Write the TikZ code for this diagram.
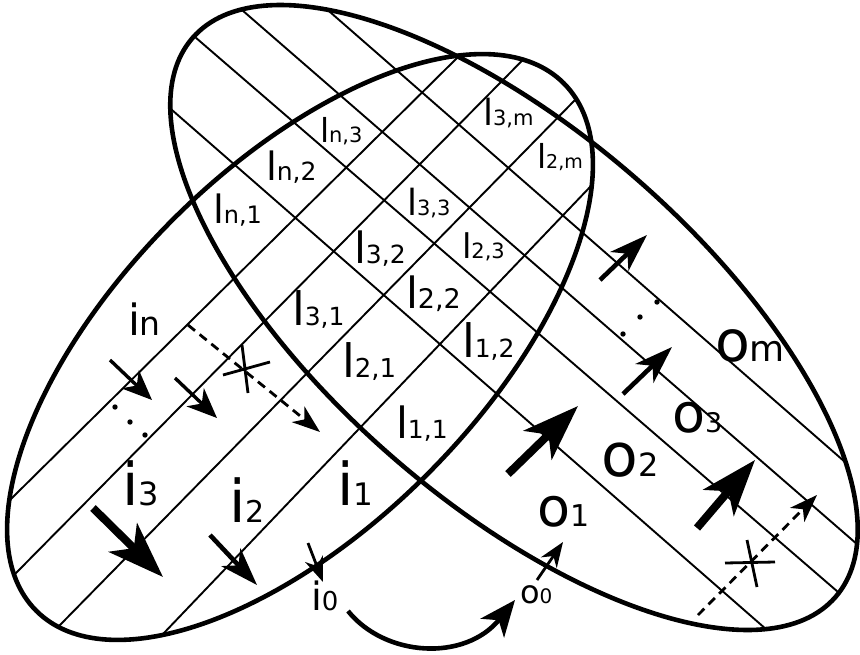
\documentclass[tikz,border=0pt]{standalone}
\usepackage{fontspec}
\setmainfont{DejaVu Sans}
\usetikzlibrary{arrows.meta,calc}
\newcommand\lab[7]{\node[lab] (#1) at (#2,#3) {\fontsize{#4pt}{#4pt}\selectfont #6\fontsize{#5pt}{#5pt}\selectfont #7};}
\newcommand\hatchline[2]{\draw[hatch] ($#1!-0.12!#2$) -- ($#2!-0.12!#1$);}
\begin{document}
\begin{tikzpicture}[x=1pt,y=-1pt,
  ell/.style={line width=4.6pt},
  hatch/.style={line width=1.9pt},
  lab/.style={anchor=base west, inner sep=0pt, outer sep=0pt},
  arrS/.style={line width=2.8pt, -{Stealth[length=25pt, width=19pt, inset=8pt]}},
  arrM/.style={line width=3.4pt, -{Stealth[length=30pt, width=25pt, inset=9pt]}},
  arrL/.style={line width=4.6pt, -{Stealth[length=38pt, width=26pt, inset=11pt]}},
  arrXL/.style={line width=8pt, -{Stealth[length=56pt, width=40pt, inset=15pt]}},
  dsh/.style={line width=2.8pt, dash pattern=on 9pt off 6pt, -{Stealth[length=28pt, width=20pt, inset=8pt]}},
  xmark/.style={line width=2.8pt}]
\useasboundingbox (0,0) rectangle (860,654);
\fill[white] (0,0) rectangle (860,654);
% input family lines, clipped to E1
\begin{scope}
  \clip[rotate around={45:(300,347)}] (300,347) ellipse [x radius=373, y radius=180];
  \hatchline{(15,495)}{(457,58)}
  \hatchline{(17,572)}{(500,83)}
  \hatchline{(60,625)}{(575,100)}
  \hatchline{(163,634)}{(590,187)}
\end{scope}
% output family lines, clipped to E2
\begin{scope}
  \clip[rotate around={-41:(514,317.5)}] (514,317.5) ellipse [x radius=426, y radius=185];
  \hatchline{(172,110)}{(767,630)}
  \hatchline{(195,37)}{(838,592)}
  \hatchline{(242,10)}{(858,545)}
  \hatchline{(330,12)}{(845,462)}
\end{scope}
% ellipses
\draw[ell, rotate around={45:(300,347)}] (300,347) ellipse [x radius=373, y radius=180];
\draw[ell, rotate around={-41:(514,317.5)}] (514,317.5) ellipse [x radius=426, y radius=185];
% labels
\lab{in}{128}{335}{43}{33}{i}{n}
\lab{i3}{122.5}{505}{59}{32}{i}{3}
\lab{i2}{229.5}{522}{59}{30}{i}{2}
\lab{i1}{337.5}{505}{59}{31}{i}{1}
\lab{i0}{311}{610}{39}{26}{i}{0}
\lab{o1}{537}{526}{54}{30}{o}{1}
\lab{o2}{601.7}{476}{60}{32}{o}{2}
\lab{o3}{672}{432}{54}{27}{o}{3}
\lab{om}{715}{361}{57}{36}{o}{m}
\lab{o0}{520}{603}{32}{20}{o}{0}
\lab{ln3}{320}{142}{33}{21}{l}{n,3}
\lab{ln2}{266}{180}{39}{25}{l}{n,2}
\lab{ln1}{213}{223}{39}{24}{l}{n,1}
\lab{l32}{354}{263}{43}{25}{l}{3,2}
\lab{l31}{292}{325}{46}{25}{l}{3,1}
\lab{l33}{407}{215}{36}{21}{l}{3,3}
\lab{l3m}{483}{125}{36}{21}{l}{3,m}
\lab{l2m}{537}{168}{33}{19}{l}{2,m}
\lab{l23}{462}{258}{34}{21}{l}{2,3}
\lab{l22}{406}{308}{43}{27}{l}{2,2}
\lab{l21}{342}{377}{46}{26}{l}{2,1}
\lab{l11}{396}{438}{43}{25}{l}{1,1}
\lab{l12}{462}{357}{46}{25}{l}{1,2}
% input arrows
\draw[arrM] (110,360) -- (152,400);
\draw[arrM] (175,378) -- (217,418);
\draw[arrXL] (93,508) -- (163,577);
\draw[arrL] (210,535) -- (257,585);
\draw[arrS] (308,543) -- (323,582);
\draw[dsh] (188,325) -- (320,432);
\draw[xmark] (223,375) -- (270,362) (242,345) -- (248,393);
\fill (115,407) circle (2.7) (130,422) circle (2.7) (145,435) circle (2.7);
% transfer arrow
\draw[line width=4.6pt, -{Stealth[length=36pt, width=30pt, inset=10pt]}] (348,611) .. controls (385,657) and (465,662) .. (515,600);
% output arrows
\draw[arrS] (537,580) -- (563,542);
\draw[arrXL] (508,474) -- (578,406);
\draw[arrXL] (697,528) -- (755,460);
\draw[arrL] (623,394) -- (672,347);
\draw[arrL] (600,280) -- (647,235);
\draw[dsh] (698,615) -- (817,495);
\draw[xmark] (725,563) -- (775,562) (747,540) -- (757,587);
\fill (657,302) circle (2.7) (640,317) circle (2.7) (623,334) circle (2.7);
\end{tikzpicture}
\end{document}
